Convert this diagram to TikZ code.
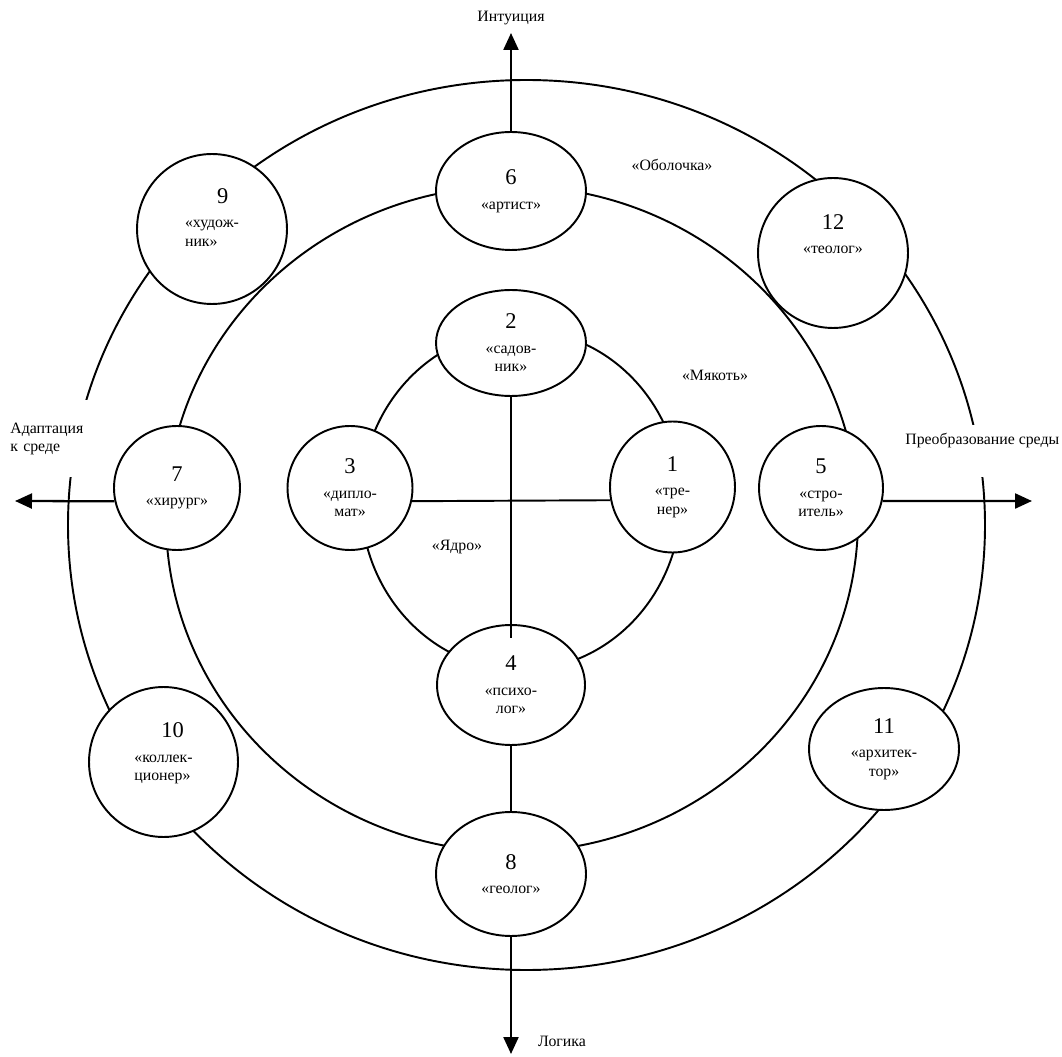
\documentclass[tikz,border=0pt]{standalone}
\usepackage{fontspec}
\setmainfont{Liberation Serif}
\usetikzlibrary{shapes.geometric,arrows.meta}
\newcommand{\numfont}{\fontsize{12.8}{14}\selectfont}
\newcommand{\txtfont}{\fontsize{9}{10.5}\selectfont}

\begin{document}
\begin{tikzpicture}[x=0.02cm,y=-0.02cm,
  role/.style={ellipse,draw,line width=1.1pt,fill=white,inner sep=0pt,align=center,font=\txtfont},
  axis/.style={line width=1.3pt,-{Triangle[length=0.34cm,width=0.3cm]}},
  zone/.style={font=\txtfont}]
  \useasboundingbox (0,0) rectangle (1062,1057);
  % the three rings
  \draw[line width=1.1pt] (526.5,525) ellipse [x radius=458.5,y radius=445];
  \draw[line width=1.1pt] (512,519) ellipse [x radius=346,y radius=333];
  \draw[line width=1.1pt] (521,500) ellipse [x radius=160,y radius=170];
  % rings' names
  \node[zone] (shell) at (672,165) {«Оболочка»};
  \node[zone] (pulp) at (715,375) {«Мякоть»};
  \node[zone] (core) at (457,547) {«Ядро»};
  % axes' names
  \node[zone] (intuition) at (511,18) {Интуиция};
  \node[zone,anchor=west] (logic) at (532,1041) {Логика};
  \node[zone,anchor=north west,fill=white,inner sep=0pt,text width=1.7cm,align=left,minimum height=1.54cm] (adapt) at (10,400) {Адаптация\\к среде};
  \node[zone,anchor=base west,fill=white,inner sep=0pt,text height=0.4cm,text depth=0.64cm] (transform) at (905,445) {Преобразование среды};
  % core
  \node[role,minimum width=2.5cm,minimum height=2.62cm] (trainer) at (672.5,487) {{\numfont 1}\\[3.5pt]«тре-\\нер»};
  \node[role,minimum width=3cm,minimum height=2.12cm] (gardener) at (511,343) {{\numfont 2}\\[3.5pt]«садов-\\ник»};
  \node[role,minimum width=2.5cm,minimum height=2.48cm] (diplomat) at (350,488) {{\numfont 3}\\[3.5pt]«дипло-\\мат»};
  \node[role,minimum width=2.96cm,minimum height=2.4cm] (psych) at (511,685) {{\numfont 4}\\[3.5pt]«психо-\\лог»};
  % pulp
  \node[role,minimum width=2.48cm,minimum height=2.48cm] (builder) at (821,488) {{\numfont 5}\\[3.5pt]«стро-\\итель»};
  \node[role,minimum width=3cm,minimum height=2.36cm] (artist) at (511,191) {{\numfont 6}\\[3.5pt]«артист»};
  \node[role,minimum width=2.52cm,minimum height=2.48cm] (surgeon) at (177,488) {{\numfont 7}\\[3.5pt]«хирург»};
  \node[role,minimum width=3cm,minimum height=2.48cm] (geologist) at (511,874) {{\numfont 8}\\[3.5pt]«геолог»};
  % shell
  \node[role,align=left,minimum width=3cm,minimum height=3cm] (painter) at (212,229) {{\hspace*{0.64cm}\numfont 9}\\[3.5pt]«худож-\\ник»\\[3pt]\mbox{}};
  \node[role,align=left,minimum width=2.98cm,minimum height=3cm] (collector) at (163.5,762) {{\hspace*{0.54cm}\numfont 10}\\[3.5pt]«коллек-\\ционер»\\[1pt]\mbox{}};
  \node[role,minimum width=3cm,minimum height=2.44cm] (architect) at (884,749) {{\numfont 11}\\[3.5pt]«архитек-\\тор»};
  \node[role,minimum width=3cm,minimum height=3cm] (theologian) at (833,253) {{\numfont 12}\\[3.5pt]«теолог»\\[11pt]\mbox{}};
  % axes
  \coordinate (up) at (511,33);
  \coordinate (down) at (511,1054);
  \coordinate (west) at (15,501);
  \coordinate (east) at (1032,501);
  \draw[axis] (artist.north) -- (up);
  \draw[line width=1.1pt,shorten >=-0.28cm] (gardener.south) -- (psych.north);
  \draw[line width=1.1pt] (psych.south) -- (geologist.north);
  \draw[axis] (geologist.south) -- (down);
  \draw[axis] (surgeon.192) -- (west);
  \draw[line width=1.1pt] (diplomat.-12) -- (trainer.192);
  \draw[axis] (builder.-12) -- (east);
\end{tikzpicture}
\end{document}
